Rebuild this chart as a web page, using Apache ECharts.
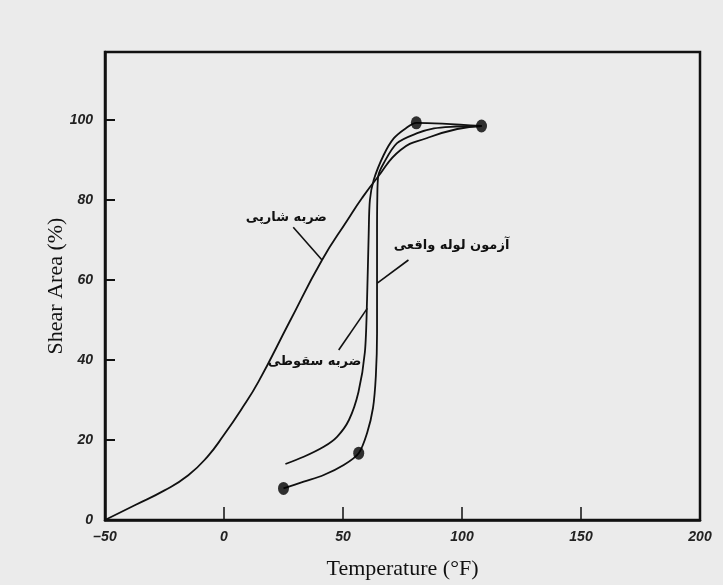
<!DOCTYPE html>
<html>
<head>
<meta charset="utf-8">
<script src="https://cdn.jsdelivr.net/npm/echarts@6/dist/echarts.min.js"></script>
<style>
html,body{margin:0;padding:0;background:#ebebeb;}
#c{width:723px;height:585px;}
</style>
</head>
<body>
<div id="c"></div>
<script>
// Temperature (°F) / Shear Area (%)
const xTicks = [-50, 0, 50, 100, 150, 200];
const yTicks = [0, 20, 40, 60, 80, 100];

// Charpy impact (ضربه شارپی)
const charpyData = [
  [-50, 0], [-37.5, 3.7], [-25, 7.4], [-15, 11.2], [-7, 15.8], [0, 21.3],
  [7, 27.4], [14.5, 34.6], [27.5, 49.5], [41.2, 65], [51.9, 75], [58, 80.5],
  [64.3, 85.5], [74.2, 92.5], [85.4, 95.5], [98, 97.75], [108.2, 98.5]
];

// Drop weight (ضربه سقوطی)
const dropData = [
  [25.8, 14], [33.5, 15.8], [41.9, 18.3], [47.5, 20.8], [52.5, 25], [56.5, 32],
  [59.2, 42], [60.1, 55], [60.8, 71.7], [61.3, 80], [62.9, 85], [67.1, 91.25],
  [71.3, 95.4], [76.3, 97.9], [80.8, 99.3], [108.2, 98.5]
];

// Full-scale pipe test (آزمون لوله واقعی)
const pipeData = [
  [25.0, 7.9], [33.5, 9.6], [41.9, 11.25], [50.3, 13.75], [56.6, 16.7], [60.1, 21.7],
  [62.6, 28], [63.8, 36], [64.3, 46.7], [64.3, 60], [64.3, 72], [64.4, 80],
  [64.8, 86], [67.1, 89.2], [72.7, 94.2], [81.2, 96.7], [88.2, 97.9], [95.2, 98.3], [108.2, 98.5]
];

// Measured points (dots)
const dotData = [[25.0, 7.9], [56.6, 16.7], [80.8, 99.3], [108.2, 98.5]];

// Annotation labels and leader lines (data units)
const annotations = [
  { text: 'ضربه شارپی', at: [26.2, 75.6], from: [29.1, 73.2], to: [41.2, 65] },
  { text: 'آزمون لوله واقعی', at: [95.6, 68.5], from: [77.5, 65], to: [64.4, 59.2] },
  { text: 'ضربه سقوطی', at: [38, 39.5], from: [48.2, 42.5], to: [60.2, 52.9] }
];

const chart = echarts.init(document.getElementById('c'));
const lineStyle = { color: '#111', width: 1.8 };
const tickFont = { fontFamily: 'Liberation Sans', fontStyle: 'italic', fontWeight: 'bold', fontSize: 14, color: '#222' };

chart.setOption({
  backgroundColor: '#ebebeb',
  animation: false,
  grid: { left: 105, top: 52, right: 23, bottom: 63, show: true, borderColor: '#111', borderWidth: 2.5, backgroundColor: 'transparent' },
  xAxis: {
    type: 'value', min: xTicks[0], max: xTicks[xTicks.length - 1], interval: 50,
    name: 'Temperature (°F)', nameLocation: 'middle', nameGap: 38,
    nameTextStyle: { fontFamily: 'Liberation Serif', fontSize: 22, color: '#111' },
    axisLine: { show: true, onZero: false, lineStyle: { color: '#111', width: 2.5 } },
    axisTick: { show: true, inside: true, length: 13, lineStyle: { color: '#111', width: 1.5 } },
    axisLabel: Object.assign({ margin: 10, formatter: v => String(v).replace('-', '–') }, tickFont),
    splitLine: { show: false }
  },
  yAxis: {
    type: 'value', min: yTicks[0], max: 117, interval: 20,
    name: 'Shear Area (%)', nameLocation: 'middle', nameGap: 38, nameMoveOverlap: false,
    nameTextStyle: { fontFamily: 'Liberation Serif', fontSize: 22, color: '#111' },
    axisLine: { show: true, onZero: false, lineStyle: { color: '#111', width: 2.5 } },
    axisTick: { show: true, inside: true, length: 10, lineStyle: { color: '#111', width: 2 } },
    axisLabel: Object.assign({ margin: 12, showMaxLabel: false }, tickFont),
    splitLine: { show: false }
  },
  series: [
    { name: 'charpy', type: 'line', data: charpyData, smooth: 0.5, showSymbol: false, lineStyle },
    { name: 'drop', type: 'line', data: dropData, smooth: 0.3, showSymbol: false, lineStyle },
    { name: 'pipe', type: 'line', data: pipeData, smooth: 0.3, showSymbol: false, lineStyle },
    { name: 'dots', type: 'scatter', data: dotData, symbol: 'circle', symbolSize: [11, 13], itemStyle: { color: '#000' }, z: 5 }
  ]
});

const graphics = [];
annotations.forEach(a => {
  const p = chart.convertToPixel({ gridIndex: 0 }, a.at);
  const f = chart.convertToPixel({ gridIndex: 0 }, a.from);
  const t = chart.convertToPixel({ gridIndex: 0 }, a.to);
  graphics.push({
    type: 'line', shape: { x1: f[0], y1: f[1], x2: t[0], y2: t[1] },
    style: { stroke: '#111', lineWidth: 1.6 }, z: 10
  });
  graphics.push({
    type: 'text', x: p[0], y: p[1],
    style: { text: a.text, font: 'bold 13px "DejaVu Sans"', fill: '#111', align: 'center', verticalAlign: 'middle' }, z: 10
  });
});
chart.setOption({ graphic: graphics });
</script>
</body>
</html>
